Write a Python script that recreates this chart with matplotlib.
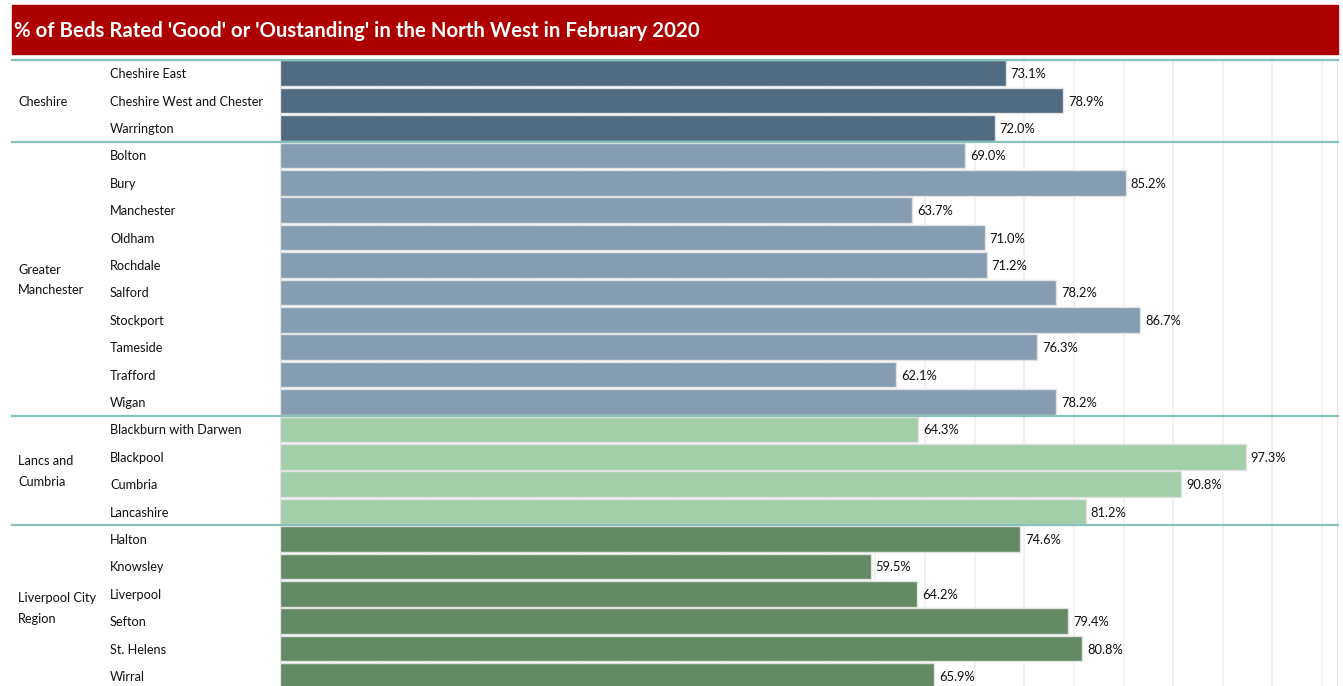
import matplotlib.pyplot as plt
import matplotlib.transforms as mtransforms

# data
groups = ['Cheshire', 'Greater\nManchester', 'Lancs and\nCumbria', 'Liverpool City\nRegion']
group_sizes = [3, 10, 4, 6]
group_colors = ['#506A80', '#869DB1', '#A3CEAA', '#628A65']
areas = ['Cheshire East', 'Cheshire West and Chester', 'Warrington',
         'Bolton', 'Bury', 'Manchester', 'Oldham', 'Rochdale', 'Salford',
         'Stockport', 'Tameside', 'Trafford', 'Wigan',
         'Blackburn with Darwen', 'Blackpool', 'Cumbria', 'Lancashire',
         'Halton', 'Knowsley', 'Liverpool', 'Sefton', 'St. Helens', 'Wirral']
values = [73.1, 78.9, 72.0,
          69.0, 85.2, 63.7, 71.0, 71.2, 78.2, 86.7, 76.3, 62.1, 78.2,
          64.3, 97.3, 90.8, 81.2,
          74.6, 59.5, 64.2, 79.4, 80.8, 65.9]
title = "% of Beds Rated 'Good' or 'Oustanding' in the North West in February 2020"

plt.rcParams['font.family'] = ['Lato', 'DejaVu Sans']

W, H = 1343, 686
fig = plt.figure(figsize=(W / 100, H / 100), dpi=100)

# plot area in pixel terms
left_px, right_px = 280, 1337
top_px = 59.5
row_h = 27.4
n = len(areas)
bottom_px = top_px + n * row_h
ax = fig.add_axes([left_px / W, 1 - bottom_px / H,
                   (right_px - left_px) / W, (bottom_px - top_px) / H])

bar_colors = []
for c, s in zip(group_colors, group_sizes):
    bar_colors += [c] * s

ypos = list(range(n))
ax.barh(ypos, values, height=0.94, color=bar_colors, edgecolor='#E2E2E2',
        linewidth=1.0, zorder=3)
for y, v in zip(ypos, values):
    ax.text(v + 0.5, y + 0.04, f'{v:.1f}%', va='center', ha='left', fontsize=9.3,
            color='#111111', zorder=4)

ax.set_xlim(0, 106.5)
ax.set_ylim(n - 0.5, -0.5)
ax.set_xticks(range(5, 106, 5))
ax.grid(axis='x', color='#EFEFEF', linewidth=1.1, zorder=0)
ax.tick_params(length=0, labelbottom=False, labelleft=False)
for side in ['top', 'bottom', 'left']:
    ax.spines[side].set_visible(False)
ax.spines['right'].set_color('#E4E4E4')
ax.spines['left'].set_visible(True)
ax.spines['left'].set_color('#DDDDDD')

# labels on the left
trans = mtransforms.blended_transform_factory(fig.transFigure, ax.transData)
for y, name in zip(ypos, areas):
    ax.text(110 / W, y + 0.04, name, transform=trans, va='center', ha='left',
            fontsize=9.2, color='#111111')

start = 0
for g, s in zip(groups, group_sizes):
    mid = start + (s - 1) / 2
    ax.text(18 / W, mid + 0.04, g, transform=trans, va='center', ha='left',
            fontsize=9.2, color='#111111', linespacing=1.85)
    # separator line at the top of each group
    ax.plot([12 / W, 1338 / W], [start - 0.5, start - 0.5], transform=trans,
            color='#86C2BA', linewidth=1.6, clip_on=False, zorder=5)
    start += s

# title bar
fig.patches.append(plt.Rectangle((12 / W, 1 - 54 / H), (1338 - 12) / W, 49 / H,
                                 transform=fig.transFigure, color='#AD0000'))
fig.text(14 / W, 1 - 31 / H, title, ha='left', va='center', fontsize=14.7,
         fontweight='bold', color='white')

fig.savefig('out.png', dpi=100)
